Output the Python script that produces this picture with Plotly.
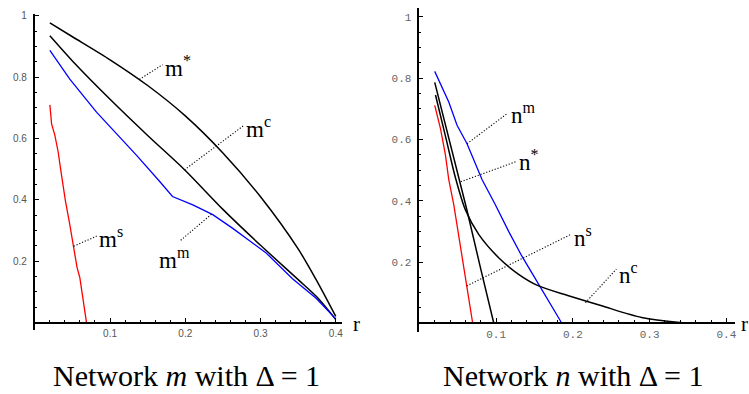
import plotly.graph_objects as go

# ---- network m (left panel) ----
m_r = [0.02, 0.05, 0.10, 0.15, 0.20, 0.25, 0.30, 0.35, 0.375, 0.40]
m_star = [0.977, 0.932, 0.857, 0.773, 0.674, 0.553, 0.41, 0.24, 0.135, 0.02]
m_c = [0.935, 0.853, 0.728, 0.61, 0.496, 0.369, 0.252, 0.14, 0.083, 0.01]

mm_r = [0.02, 0.0465, 0.082, 0.135, 0.166, 0.183, 0.21, 0.2365, 0.2626,
        0.307, 0.3425, 0.3735, 0.40]
mm_v = [0.888, 0.794, 0.686, 0.546, 0.46, 0.411, 0.384, 0.352, 0.308,
        0.228, 0.143, 0.08, 0.012]

ms_r = [0.02, 0.0223, 0.0266, 0.031, 0.0355, 0.0408, 0.0465, 0.0518,
        0.0562, 0.0598, 0.0641, 0.0687]
ms_v = [0.71, 0.648, 0.611, 0.557, 0.481, 0.395, 0.319, 0.249,
        0.179, 0.147, 0.071, 0.0]

# ---- network n (right panel) ----
nm_r = [0.02, 0.0383, 0.0491, 0.0621, 0.0816, 0.099, 0.1163, 0.1336,
        0.1553, 0.1705, 0.179, 0.1856]
nm_v = [0.822, 0.722, 0.646, 0.586, 0.469, 0.387, 0.30, 0.219,
        0.128, 0.063, 0.030, 0.0]

nstar_r = [0.02, 0.0522, 0.0617, 0.08, 0.097]
nstar_v = [0.786, 0.462, 0.372, 0.177, 0.0]

nc_r = [0.021, 0.035, 0.047, 0.06, 0.0773, 0.1033, 0.1293, 0.1553,
        0.1943, 0.2375, 0.2895, 0.3394, 0.36]
nc_v = [0.745, 0.60, 0.475, 0.37, 0.29, 0.214, 0.16, 0.122,
        0.09, 0.057, 0.019, 0.003, 0.0]

ns_r = [0.02, 0.0275, 0.034, 0.0383, 0.0448, 0.0491, 0.0556, 0.0621,
        0.0665, 0.0695]
ns_v = [0.711, 0.635, 0.549, 0.469, 0.387, 0.322, 0.225, 0.122,
        0.052, 0.0]

x_tickvals = [0.1, 0.2, 0.3, 0.4]
x_ticktext = ["0.1", "0.2", "0.3", "0.4"]
y_tickvals = [0.2, 0.4, 0.6, 0.8, 1.0]
y_ticktext = ["0.2", "0.4", "0.6", "0.8", "1"]

# curve labels: text, point on curve, end of dotted leader, text anchor
m_labels = [
    ("m<sup>*</sup>", (0.139, 0.793), (0.1698, 0.841), (0.1698, 0.835)),
    ("m<sup>c</sup>", (0.1989, 0.498), (0.2785, 0.644), (0.2785, 0.636)),
    ("m<sup>s</sup>", (0.0518, 0.249), (0.0823, 0.282), (0.0823, 0.278)),
    ("m<sup>m</sup>", (0.2347, 0.353), (0.1923, 0.265), (0.1618, 0.209)),
]
n_labels = [
    ("n<sup>m</sup>", (0.0621, 0.586), (0.1137, 0.683), (0.1163, 0.684)),
    ("n<sup>*</sup>", (0.0539, 0.462), (0.1254, 0.527), (0.1267, 0.532)),
    ("n<sup>s</sup>", (0.0617, 0.122), (0.1982, 0.291), (0.1995, 0.282)),
    ("n<sup>c</sup>", (0.2164, 0.067), (0.2567, 0.177), (0.2579, 0.163)),
]

W, H = 749, 394


def px(x):
    return x / W


def py(y):
    return (H - y) / H


SERIF = "Liberation Serif"

fig = go.Figure()


def curve(x, y, color, ax, width=1.5, shape="linear"):
    fig.add_trace(go.Scatter(x=x, y=y, mode="lines", xaxis=ax[0], yaxis=ax[1],
                             line=dict(color=color, width=width, shape=shape,
                                       smoothing=0.8 if shape == "spline" else None),
                             hoverinfo="skip"))


left, right = ("x", "y"), ("x2", "y2")
curve(m_r, m_star, "black", left, shape="spline")
curve(m_r, m_c, "black", left, shape="spline")
curve(mm_r, mm_v, "blue", left, width=1.3)
curve(ms_r, ms_v, "red", left, width=1.3)

curve(nm_r, nm_v, "blue", right, width=1.3)
curve(nstar_r, nstar_v, "black", right)
curve(nc_r, nc_v, "black", right, shape="spline")
curve(ns_r, ns_v, "red", right, width=1.3)

annotations = []
for labels, ax in ((m_labels, left), (n_labels, right)):
    for text, p0, p1, t in labels:
        fig.add_trace(go.Scatter(x=[p0[0], p1[0]], y=[p0[1], p1[1]], mode="lines",
                                 xaxis=ax[0], yaxis=ax[1], hoverinfo="skip",
                                 line=dict(color="black", width=1.1, dash="1.2px,1.8px")))
        annotations.append(dict(x=t[0], y=t[1], xref=ax[0], yref=ax[1], text=text,
                                showarrow=False, xanchor="left", yanchor="middle",
                                font=dict(family=SERIF, size=23, color="black")))

annotations += [
    dict(x=px(187), y=py(375), xref="paper", yref="paper", showarrow=False,
         text="Network <i>m</i> with Δ = 1", xanchor="center", yanchor="middle",
         font=dict(family=SERIF, size=30, color="black")),
    dict(x=px(575), y=py(375), xref="paper", yref="paper", showarrow=False,
         text="Network <i>n</i> with Δ = 1", xanchor="center", yanchor="middle",
         font=dict(family=SERIF, size=30, color="black")),
    dict(x=px(357.5), y=py(323), xref="paper", yref="paper", showarrow=False,
         text="r", xanchor="center", yanchor="middle",
         font=dict(family=SERIF, size=21, color="black")),
    dict(x=px(741), y=py(323), xref="paper", yref="paper", showarrow=False,
         text="r", xanchor="left", yanchor="middle",
         font=dict(family=SERIF, size=21, color="black")),
]


def xaxis(domain, rng, pos, font, lw):
    return dict(domain=domain, range=rng, anchor="free", position=pos,
                showline=True, linecolor="black", linewidth=lw,
                showgrid=False, zeroline=False,
                tickmode="array", tickvals=x_tickvals, ticktext=x_ticktext,
                ticks="inside", ticklen=4, tickwidth=1, tickcolor="black",
                minor=dict(ticks="inside", ticklen=2, tickwidth=1, tickcolor="black",
                           tick0=0, dtick=0.02, showgrid=False),
                tickfont=font, ticklabelstandoff=1)


def yaxis(domain, rng, anchor, font, lw):
    return dict(domain=domain, range=rng, anchor=anchor,
                showline=True, linecolor="black", linewidth=lw,
                showgrid=False, zeroline=False,
                tickmode="array", tickvals=y_tickvals, ticktext=y_ticktext,
                ticks="inside", ticklen=4, tickwidth=1, tickcolor="black",
                minor=dict(ticks="inside", ticklen=2, tickwidth=1, tickcolor="black",
                           tick0=0, dtick=0.05, showgrid=False),
                tickfont=font, ticklabelstandoff=4)


sans = dict(family="Liberation Sans", size=10, color="#555555")
mono = dict(family="Liberation Mono", size=11, color="#666666")

fig.update_layout(
    width=W, height=H, margin=dict(l=0, r=0, t=0, b=0),
    paper_bgcolor="white", plot_bgcolor="white", showlegend=False,
    xaxis=xaxis([px(34.9), px(343)], [0, 0.4084], py(322), sans, 2),
    yaxis=yaxis([py(330), py(11)], [-0.0259, 1.0065], "x", sans, 2),
    xaxis2=xaxis([px(420.5), px(737)], [0, 0.4113], py(322.7), mono, 1.5),
    yaxis2=yaxis([py(331.7), py(5)], [-0.029, 1.029], "x2", mono, 1.5),
    annotations=annotations,
)

# the page body has a default 8px margin; drop it so the figure sits at 0,0
fig.write_html("out.html", config={"displayModeBar": False},
               post_script="document.body.style.margin='0px';")
